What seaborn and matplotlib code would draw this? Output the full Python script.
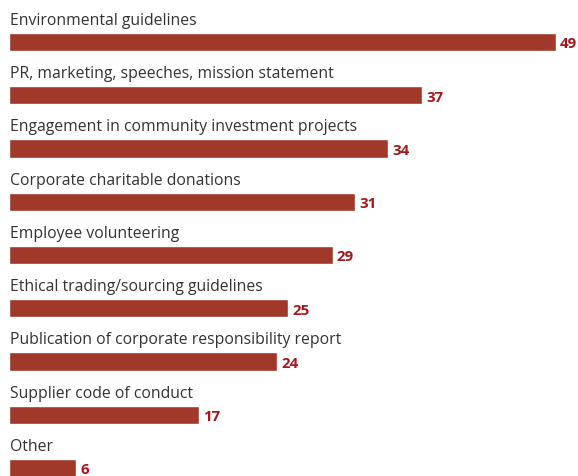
import matplotlib
matplotlib.use("Agg")
import matplotlib.pyplot as plt
import seaborn as sns
import pandas as pd

categories = [
    "Environmental guidelines",
    "PR, marketing, speeches, mission statement",
    "Engagement in community investment projects",
    "Corporate charitable donations",
    "Employee volunteering",
    "Ethical trading/sourcing guidelines",
    "Publication of corporate responsibility report",
    "Supplier code of conduct",
    "Other",
]
values = [49, 37, 34, 31, 29, 25, 24, 17, 6]

bar_color = "#a0392a"
value_color = "#a3161c"
label_color = "#333333"

sns.set_theme(style="white")
plt.rcParams["font.family"] = ["Open Sans", "DejaVu Sans"]

df = pd.DataFrame({"category": categories, "value": values})

fig = plt.figure(figsize=(5.78, 4.77), dpi=100)
ax = fig.add_axes([0, 0, 1, 1])

sns.barplot(data=df, x="value", y="category", orient="h", color=bar_color,
            width=0.34, saturation=1, ax=ax)

ax.set_xlim(-0.806, 50.98)
ax.set_ylim(8.15, -0.807)

for i, (cat, val) in enumerate(zip(categories, values)):
    ax.text(0.08, i - 0.34, cat, ha="left", va="baseline",
            fontsize=11.3, color=label_color)
    ax.annotate(str(val), xy=(val, i), xytext=(3, -1), textcoords="offset points",
                ha="left", va="center", fontsize=10.8, fontweight="bold",
                color=value_color)

ax.set_xlabel("")
ax.set_ylabel("")
ax.set_xticks([])
ax.set_yticks([])
for s in ax.spines.values():
    s.set_visible(False)

fig.savefig("out.png", dpi=100)
